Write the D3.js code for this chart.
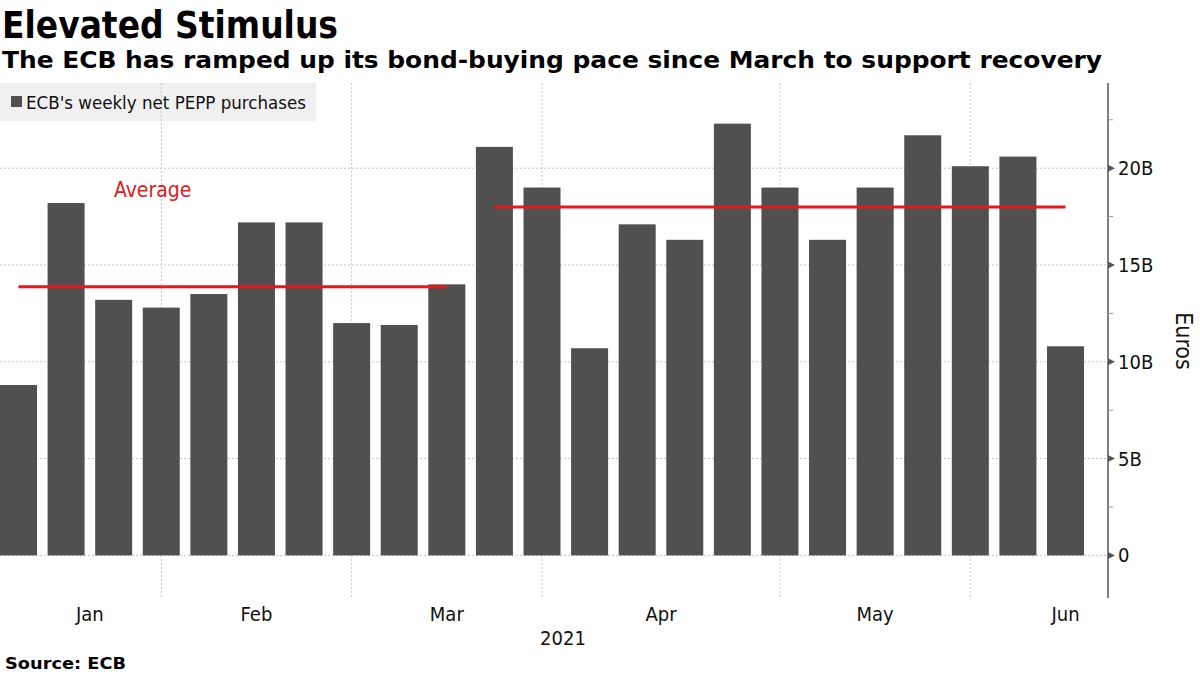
<!DOCTYPE html>
<html><head><meta charset="utf-8">
<script src="https://cdn.jsdelivr.net/npm/d3@7"></script>
<style>body{margin:0;background:#fff}</style>
</head><body><svg id="c" width="1200" height="675"></svg>
<script>
// ---- data ----
const categories = ["Jan-1","Jan-2","Jan-3","Feb-1","Feb-2","Feb-3","Feb-4","Mar-1","Mar-2","Mar-3","Mar-4",
  "Apr-1","Apr-2","Apr-3","Apr-4","Apr-5","May-1","May-2","May-3","May-4","Jun-1","Jun-2","Jun-3"];
const values = [8.8,18.2,13.2,12.8,13.5,17.2,17.2,12.0,11.9,14.0,21.1,19.0,10.7,17.1,16.3,22.3,19.0,16.3,19.0,21.7,20.1,20.6,10.8];
const averageStart = [0,10];
const averageEnd = [9,22];
const monthLabels = ["Jan","Feb","Mar","Apr","May","Jun"];
const monthStart = [0,3,7,11,16,20];
const monthEnd = [3,7,11,16,20,24];
const yTicks = [0,5,10,15,20];
const yTickLabels = ["0","5B","10B","15B","20B"];
const yMinorTicks = [2.5,7.5,12.5,17.5,22.5];
const yearLabel = "2021";

// ---- layout ----
const svg = d3.select("#c");
const FONT = "'DejaVu Sans Condensed','DejaVu Sans',sans-serif";
const plotLeft = 0, plotRight = 1108, plotTop = 83, plotBottom = 598;
const x = d3.scaleBand().domain(categories).range([-5.3, 1089.3]).paddingInner(0.2225).paddingOuter(0.11125);
const y = d3.scaleLinear().domain([-2.2, 24.4]).range([plotBottom, plotTop]);
const idxX = i => x.range()[0] + x.step() * (i + 0.5);

// legend background
svg.append("rect").attr("x", 0).attr("y", 83).attr("width", 316).attr("height", 38).attr("fill", "#f0f0f0");

// gridlines
svg.append("g").selectAll("line").data(yTicks).join("line")
  .attr("x1", plotLeft).attr("x2", plotRight).attr("y1", d => y(d)).attr("y2", d => y(d))
  .attr("stroke", "#c4c4c4").attr("stroke-width", 1).attr("stroke-dasharray", "2,2");
svg.append("g").selectAll("line").data(monthStart.slice(1)).join("line")
  .attr("x1", d => idxX(d)).attr("x2", d => idxX(d)).attr("y1", plotTop).attr("y2", plotBottom)
  .attr("stroke", "#c4c4c4").attr("stroke-width", 1).attr("stroke-dasharray", "2,2");

// bars
svg.append("g").selectAll("rect").data(values).join("rect")
  .attr("x", (d, i) => x(categories[i])).attr("width", x.bandwidth())
  .attr("y", d => y(d)).attr("height", d => y(0) - y(d)).attr("fill", "#505050");

// average lines
averageStart.forEach((s, k) => {
  const e = averageEnd[k];
  const avg = d3.mean(values.slice(s, e + 1));
  svg.append("line").attr("x1", x(categories[s]) + x.bandwidth() / 2).attr("x2", x(categories[e]) + x.bandwidth() / 2)
    .attr("y1", y(avg)).attr("y2", y(avg)).attr("stroke", "#e3191e").attr("stroke-width", 3);
});
svg.append("text").attr("x", 114).attr("y", 197).attr("fill", "#e3191e")
  .attr("font-family", FONT).attr("font-size", 21).text("Average");

// legend
svg.append("rect").attr("x", 11).attr("y", 96).attr("width", 11).attr("height", 11).attr("fill", "#505050");
svg.append("text").attr("x", 26).attr("y", 109).attr("font-family", FONT).attr("font-size", 18)
  .attr("fill", "#111").attr("textLength", 280).attr("lengthAdjust", "spacingAndGlyphs")
  .text("ECB's weekly net PEPP purchases");

// y axis
svg.append("line").attr("x1", plotRight).attr("x2", plotRight).attr("y1", plotTop).attr("y2", plotBottom)
  .attr("stroke", "#555").attr("stroke-width", 1.5);
svg.append("g").selectAll("line").data(yMinorTicks).join("line")
  .attr("x1", plotRight).attr("x2", plotRight + 5).attr("y1", d => y(d)).attr("y2", d => y(d))
  .attr("stroke", "#999").attr("stroke-width", 1);
svg.append("g").selectAll("path").data(yTicks).join("path")
  .attr("d", d => `M${plotRight},${y(d) - 3.5}L${plotRight + 7},${y(d)}L${plotRight},${y(d) + 3.5}Z`)
  .attr("fill", "#555");
svg.append("g").selectAll("text").data(yTicks).join("text")
  .attr("x", plotRight + 10).attr("y", d => y(d)).attr("dy", "0.35em")
  .attr("font-family", FONT).attr("font-size", 20).attr("fill", "#111")
  .text((d, i) => yTickLabels[i]);
svg.append("text").attr("transform", "translate(1176,341) rotate(90)").attr("text-anchor", "middle")
  .attr("font-family", FONT).attr("font-size", 23).attr("fill", "#111").text("Euros");

// x axis labels
svg.append("g").selectAll("text").data(monthLabels).join("text")
  .attr("x", (d, i) => idxX((monthStart[i] + monthEnd[i]) / 2))
  .attr("y", 621).attr("text-anchor", "middle")
  .attr("font-family", FONT).attr("font-size", 20).attr("fill", "#111").text(d => d);
svg.append("text").attr("x", 563).attr("y", 645).attr("text-anchor", "middle")
  .attr("font-family", FONT).attr("font-size", 20).attr("fill", "#111").text(yearLabel);

// titles
svg.append("text").attr("x", 2).attr("y", 38).attr("font-family", FONT).attr("font-weight", "bold")
  .attr("font-size", 37).attr("fill", "#000").attr("textLength", 336).attr("lengthAdjust", "spacingAndGlyphs")
  .text("Elevated Stimulus");
svg.append("text").attr("x", 2).attr("y", 68).attr("font-family", "'DejaVu Sans',sans-serif").attr("font-weight", "bold")
  .attr("font-size", 23).attr("fill", "#000").attr("textLength", 1100).attr("lengthAdjust", "spacingAndGlyphs")
  .text("The ECB has ramped up its bond-buying pace since March to support recovery");
svg.append("text").attr("x", 5).attr("y", 669).attr("font-family", "'DejaVu Sans',sans-serif").attr("font-weight", "bold")
  .attr("font-size", 15).attr("fill", "#000").attr("textLength", 121).attr("lengthAdjust", "spacingAndGlyphs")
  .text("Source: ECB");
</script></body></html>
